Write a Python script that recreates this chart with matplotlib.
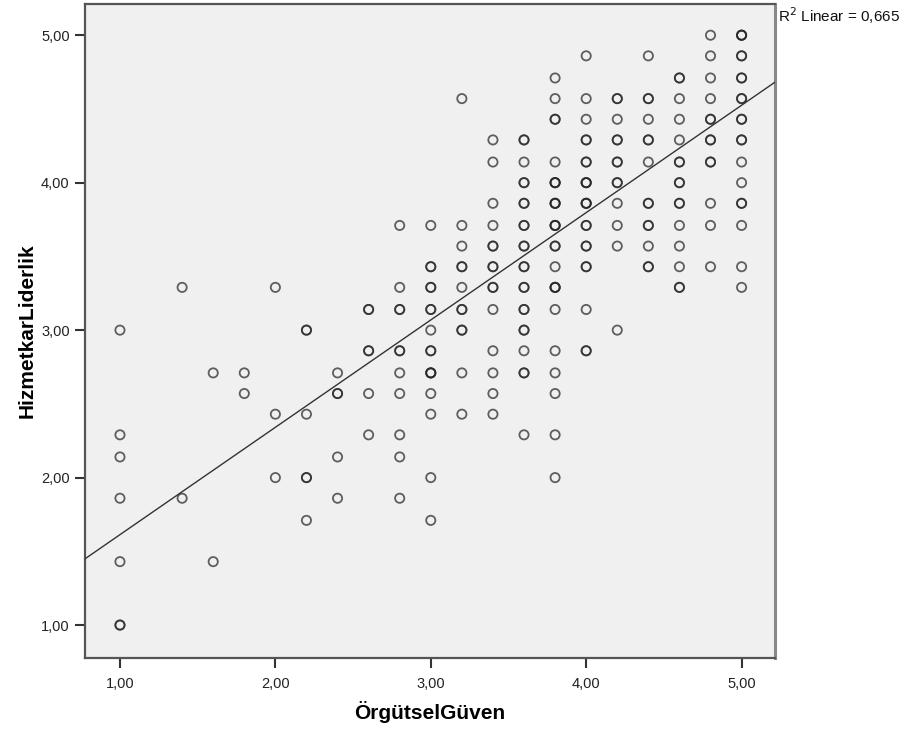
import matplotlib
matplotlib.use("Agg")
import matplotlib.pyplot as plt
import numpy as np

plt.rcParams['font.family'] = ['Liberation Sans', 'DejaVu Sans']

# ÖrgütselGüven (x), HizmetkarLiderlik (y), n = overlapping cases drawn at that spot
org_guven = [1.0]*6 + [1.4]*2 + [1.6]*2 + [1.8]*2 + [2.0]*3 + [2.2]*4 + [2.4]*4 + [2.6]*4 \
    + [2.8]*9 + [3.0]*11 + [3.2]*9 + [3.4]*12 + [3.6]*13 + [3.8]*16 + [4.0]*12 + [4.2]*9 \
    + [4.4]*9 + [4.6]*11 + [4.8]*10 + [5.0]*12

hizmetkar = [
    3.00, 2.29, 2.14, 1.86, 1.43, 1.00,
    3.29, 1.86,
    2.71, 1.43,
    2.71, 2.57,
    3.29, 2.43, 2.00,
    3.00, 2.43, 2.00, 1.71,
    2.71, 2.57, 2.14, 1.86,
    3.14, 2.86, 2.57, 2.29,
    3.71, 3.29, 3.14, 2.86, 2.71, 2.57, 2.29, 2.14, 1.86,
    3.71, 3.43, 3.29, 3.14, 3.00, 2.86, 2.71, 2.57, 2.43, 2.00, 1.71,
    4.57, 3.71, 3.57, 3.43, 3.29, 3.14, 3.00, 2.71, 2.43,
    4.29, 4.14, 3.86, 3.71, 3.57, 3.43, 3.29, 3.14, 2.86, 2.71, 2.57, 2.43,
    4.29, 4.14, 4.00, 3.86, 3.71, 3.57, 3.43, 3.29, 3.14, 3.00, 2.86, 2.71, 2.29,
    4.71, 4.57, 4.43, 4.14, 4.00, 3.86, 3.71, 3.57, 3.43, 3.29, 3.14, 2.86, 2.71, 2.57, 2.29, 2.00,
    4.86, 4.57, 4.43, 4.29, 4.14, 4.00, 3.86, 3.71, 3.57, 3.43, 3.14, 2.86,
    4.57, 4.43, 4.29, 4.14, 4.00, 3.86, 3.71, 3.57, 3.00,
    4.86, 4.57, 4.43, 4.29, 4.14, 3.86, 3.71, 3.57, 3.43,
    4.71, 4.57, 4.43, 4.29, 4.14, 4.00, 3.86, 3.71, 3.57, 3.43, 3.29,
    5.00, 4.86, 4.71, 4.57, 4.43, 4.29, 4.14, 3.86, 3.71, 3.43,
    5.00, 4.86, 4.71, 4.57, 4.43, 4.29, 4.14, 4.00, 3.86, 3.71, 3.43, 3.29,
]

counts = [
    1, 1, 1, 1, 1, 2,
    1, 1,
    1, 1,
    1, 1,
    1, 1, 1,
    2, 1, 2, 1,
    1, 2, 1, 1,
    2, 2, 1, 1,
    1, 1, 2, 2, 1, 1, 1, 1, 1,
    1, 2, 2, 2, 1, 2, 3, 1, 1, 1, 1,
    1, 1, 1, 2, 1, 2, 2, 1, 1,
    1, 1, 1, 1, 2, 2, 2, 1, 1, 1, 1, 1,
    2, 1, 2, 2, 2, 2, 2, 2, 2, 2, 1, 2, 1,
    1, 1, 2, 1, 3, 3, 3, 2, 1, 3, 1, 1, 1, 1, 1, 1,
    1, 1, 1, 2, 2, 3, 3, 2, 2, 2, 1, 2,
    2, 1, 2, 2, 2, 1, 1, 1, 1,
    1, 2, 1, 2, 1, 2, 2, 1, 2,
    2, 1, 1, 1, 2, 2, 2, 1, 1, 1, 2,
    1, 1, 1, 1, 2, 2, 2, 1, 1, 1,
    3, 2, 2, 2, 2, 2, 1, 1, 2, 1, 1, 1,
]

fit_intercept = 0.885
fit_slope = 0.728
r2_text = "R$^2$ Linear = 0,665"

x_ticks = [1.0, 2.0, 3.0, 4.0, 5.0]
y_ticks = [1.0, 2.0, 3.0, 4.0, 5.0]

xs = np.repeat(np.array(org_guven), counts)
ys = np.repeat(np.array(hizmetkar), counts)

fig = plt.figure(figsize=(9.08, 7.36), dpi=100)
ax = fig.add_axes([85/908, 1 - 657.5/736, 690/908, 654/736])
ax.set_facecolor('#f0f0f0')

ax.scatter(xs, ys, s=44, facecolors='none', edgecolors=(0.15, 0.15, 0.15, 0.72),
           linewidths=1.3, zorder=3)

xmin, xmax = 0.775, 5.215
ax.set_xlim(xmin, xmax)
ax.set_ylim(0.78, 5.215)
lx = np.array([xmin, xmax])
ax.plot(lx, fit_intercept + fit_slope * lx, color='#333333', lw=1.0, zorder=4)

ax.set_xticks(x_ticks)
ax.set_yticks(y_ticks)
ax.set_xticklabels([f"{v:.2f}".replace('.', ',') for v in x_ticks])
ax.set_yticklabels([f"{v:.2f}".replace('.', ',') for v in y_ticks])
ax.tick_params(direction='out', length=7, width=1.5, color='#333333',
               labelsize=10.5, labelcolor='#222222', pad=4)
ax.tick_params(axis='x', pad=7)

for side in ['left', 'bottom', 'top']:
    ax.spines[side].set_color('#555555')
    ax.spines[side].set_linewidth(1.6)
ax.spines['right'].set_color('#888888')
ax.spines['right'].set_linewidth(2.2)

ax.set_xlabel("ÖrgütselGüven", fontsize=15, fontweight='bold', labelpad=7)
ax.set_ylabel("HizmetkarLiderlik", fontsize=15, fontweight='bold', labelpad=3)

fig.text(778/908, 1 - 22/736, r2_text, fontsize=11, color='#111111', ha='left', va='baseline')

fig.savefig("out.png", dpi=100)
